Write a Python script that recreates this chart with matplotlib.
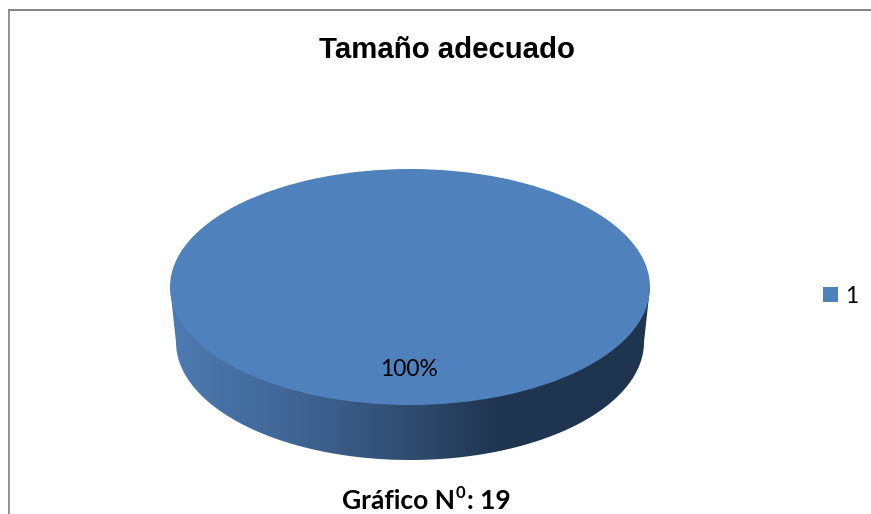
import matplotlib
matplotlib.use("Agg")
import matplotlib.pyplot as plt
import numpy as np
from matplotlib.colors import LinearSegmentedColormap
from matplotlib.patches import Polygon, Rectangle

W, H = 871, 514

title = "Tamaño adecuado"
caption = "Gráfico N"
caption_sup = "0"
caption_end = ": 19"
categories = ["1"]
values = [100]
pie_labels = ["100%"]
pie_color = "#4f81bd"
side_colors = ["#4d7bb1", "#3f6493", "#2f4c70", "#1f344f", "#1f344f"]
side_stops = [0.0, 0.27, 0.5, 0.69, 1.0]

fig = plt.figure(figsize=(W / 100, H / 100), dpi=100, facecolor="white")

# fondo en pixeles para el marco y los textos
bg = fig.add_axes([0, 0, 1, 1])
bg.set_xlim(0, W)
bg.set_ylim(H, 0)
bg.axis("off")
bg.set_zorder(3)
bg.plot([9, 9], [H, 9], color="#939393", lw=1.44, solid_capstyle="butt")
bg.plot([8, W], [10, 10], color="#868686", lw=1.44, solid_capstyle="butt")

bg.text(447, 50.5, title, ha="center", va="center", fontsize=21.2, fontweight="bold",
        family="Liberation Sans", color="black")
bg.text(342, 501, caption, ha="left", va="center", fontsize=19, fontweight="bold",
        family="Lato", color="black")
bg.text(456, 493, caption_sup, ha="left", va="center", fontsize=12, fontweight="bold",
        family="Lato", color="black")
bg.text(467, 501, caption_end, ha="left", va="center", fontsize=19, fontweight="bold",
        family="Lato", color="black")

# leyenda
bg.add_patch(Rectangle((823, 287), 15, 15, color=pie_color, lw=0))
bg.text(845, 296.5, categories[0], ha="left", va="center", fontsize=16.5, family="Lato", color="black")

bg.text(409, 370, pie_labels[0], ha="center", va="center", fontsize=16.5, family="Lato", color="black")

# la tarta: eje ajustado a la elipse de arriba
left, right, top, bottom = 170, 650, 169, 405
ax = fig.add_axes([left / W, 1 - bottom / H, (right - left) / W, (bottom - top) / H])
ax.set_zorder(2)
ax.pie(values, colors=[pie_color], startangle=90, radius=1, center=(0, 0), frame=False)
ax.set_aspect("auto")
ax.set_xlim(-1, 1)
ax.set_ylim(-1, 1)
ax.axis("off")

# lateral con degradado, un poco mas estrecho abajo
depth = 55 / ((bottom - top) / 2)
base_width = 234 / 240
ax2 = fig.add_axes([left / W, 1 - (bottom + 55) / H, (right - left) / W, (bottom + 55 - top) / H])
ax2.set_zorder(1)
cmap = LinearSegmentedColormap.from_list("lado", list(zip(side_stops, side_colors)))
img = ax2.imshow(np.linspace(0, 1, 512).reshape(1, -1), cmap=cmap, aspect="auto",
                 extent=(-1, 1, -1 - depth, 1))
ax2.set_xlim(-1, 1)
ax2.set_ylim(-1 - depth, 1)
ax2.axis("off")
t = np.linspace(np.pi, 2 * np.pi, 200)
band = np.vstack([np.c_[base_width * np.cos(t), np.sin(t) - depth], [[1, 0], [-1, 0]]])
img.set_clip_path(Polygon(band, transform=ax2.transData))

fig.savefig("out.png", dpi=100)
